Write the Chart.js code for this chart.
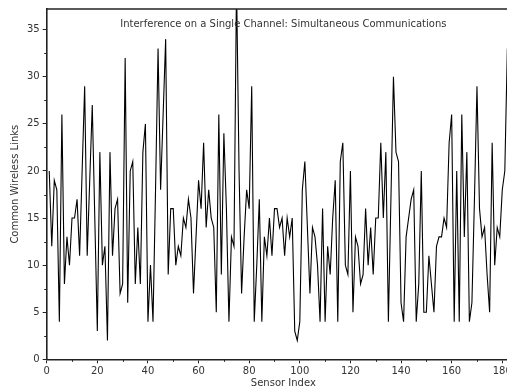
<!DOCTYPE html>
<html>
<head>
<meta charset="utf-8">
<script src="https://cdn.jsdelivr.net/npm/chart.js@4/dist/chart.umd.min.js"></script>
<style>
  html, body { margin: 0; padding: 0; background: #fff; overflow: hidden; }
  #wrap { width: 507px; height: 389px; overflow: hidden; }
  canvas { display: block; }
</style>
</head>
<body>
<div id="wrap"><canvas id="chart" width="540" height="389"></canvas></div>
<script>
  "use strict";

  const chartTitle = "Interference on a Single Channel: Simultaneous Communications";
  const xTitle = "Sensor Index";
  const yTitle = "Common Wireless Links";

  const xMajorTicks = [0, 20, 40, 60, 80, 100, 120, 140, 160, 180];
  const xMinorTicks = [10, 30, 50, 70, 90, 110, 130, 150, 170];
  const yMajorTicks = [0, 5, 10, 15, 20, 25, 30, 35];
  const yMinorTicks = [2.5, 7.5, 12.5, 17.5, 22.5, 27.5, 32.5];

  // first sensor shown is index 1
  const firstSensor = 1;
  const links = [
    20, 12, 19, 18, 4, 26, 8, 13, 10, 15,
    15, 17, 11, 20, 29, 11, 19, 27, 15, 3,
    22, 10, 12, 2, 22, 11, 16, 17, 7, 8,
    32, 6, 20, 21, 8, 14, 8, 22, 25, 4,
    10, 4, 18, 33, 18, 26, 34, 9, 16, 16,
    10, 12, 11, 15, 14, 17, 15, 7, 13, 19,
    16, 23, 14, 18, 15, 14, 5, 26, 9, 24,
    16, 4, 13, 12, 40, 20, 7, 13, 18, 16,
    29, 4, 10, 17, 4, 13, 11, 15, 11, 16,
    16, 14, 15, 11, 15, 13, 15, 3, 2, 4,
    18, 21, 14, 7, 14, 13, 10, 4, 16, 4,
    12, 9, 15, 19, 4, 21, 23, 10, 9, 20,
    5, 13, 12, 8, 9, 16, 10, 14, 9, 15,
    15, 23, 15, 22, 4, 17, 30, 22, 21, 6,
    4, 13, 15, 17, 18, 4, 8, 20, 5, 5,
    11, 8, 5, 12, 13, 13, 15, 14, 23, 26,
    4, 20, 4, 26, 13, 22, 4, 6, 17, 29,
    16, 13, 14, 9, 5, 23, 10, 14, 13, 18,
    20, 33
  ];

  const xMax = 187;
  const yMax = 37.2;

  const FONT = "'DejaVu Sans', sans-serif";
  const INK = "#222";

  const points = links.map((v, i) => ({ x: firstSensor + i, y: v }));

  // extra axis pieces: minor ticks, top spine, title inside the plot
  const decorPlugin = {
    id: "decor",
    afterDraw(chart) {
      const ctx = chart.ctx;
      const area = chart.chartArea;
      const xs = chart.scales.x;
      const ys = chart.scales.y;
      ctx.save();
      ctx.strokeStyle = INK;
      ctx.lineWidth = 1;
      xMinorTicks.forEach((t) => {
        const px = Math.round(xs.getPixelForValue(t)) + 0.5;
        ctx.beginPath();
        ctx.moveTo(px, area.bottom);
        ctx.lineTo(px, area.bottom + 2.5);
        ctx.stroke();
      });
      yMinorTicks.forEach((t) => {
        const py = Math.round(ys.getPixelForValue(t)) + 0.5;
        ctx.beginPath();
        ctx.moveTo(area.left, py);
        ctx.lineTo(area.left - 2.5, py);
        ctx.stroke();
      });
      ctx.lineWidth = 1.6;
      ctx.beginPath();
      ctx.moveTo(area.left, area.top);
      ctx.lineTo(area.right, area.top);
      ctx.stroke();

      ctx.fillStyle = "#333";
      ctx.font = "10px " + FONT;
      ctx.textAlign = "center";
      ctx.textBaseline = "middle";
      ctx.fillText(chartTitle, (area.left + area.right) / 2, area.top + 15.5);
      ctx.restore();
    }
  };

  new Chart(document.getElementById("chart"), {
    type: "line",
    data: {
      datasets: [{
        data: points,
        borderColor: "#000",
        borderWidth: 1.1,
        pointRadius: 0,
        tension: 0,
        fill: false,
        clip: 0
      }]
    },
    options: {
      responsive: false,
      animation: false,
      devicePixelRatio: 1,
      layout: { padding: { left: 0, top: 7.5, right: 20, bottom: 0 } },
      plugins: {
        legend: { display: false },
        tooltip: { enabled: false },
        title: { display: false }
      },
      scales: {
        x: {
          type: "linear",
          min: 0,
          max: xMax,
          afterBuildTicks: (s) => { s.ticks = xMajorTicks.map((v) => ({ value: v })); },
          afterFit: (s) => { s.height = 29.7; },
          grid: { display: true, drawOnChartArea: false, tickLength: 4, color: INK, tickColor: INK },
          border: { display: true, color: INK, width: 1.6 },
          ticks: { color: "#333", font: { family: FONT, size: 10 }, padding: 2, maxRotation: 0, autoSkip: false },
          title: { display: true, text: xTitle, color: "#333", font: { family: FONT, size: 10 }, padding: { top: -1, bottom: 0 } }
        },
        y: {
          min: 0,
          max: yMax,
          afterBuildTicks: (s) => { s.ticks = yMajorTicks.map((v) => ({ value: v })); },
          afterFit: (s) => { s.width = 46.7; },
          grid: { display: true, drawOnChartArea: false, tickLength: 4, color: INK, tickColor: INK },
          border: { display: true, color: INK, width: 1.6 },
          ticks: { color: "#333", font: { family: FONT, size: 10 }, padding: 3 },
          title: { display: true, text: yTitle, color: "#333", font: { family: FONT, size: 10 }, padding: { top: 9, bottom: 0 } }
        }
      }
    },
    plugins: [decorPlugin]
  });
</script>
</body>
</html>
